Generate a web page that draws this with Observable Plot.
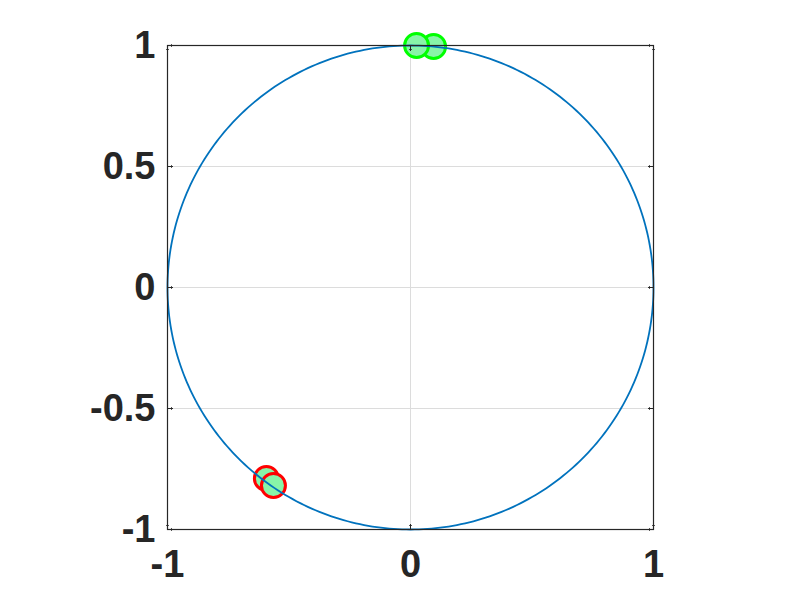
<!DOCTYPE html>
<html>
<head>
<meta charset="utf-8">
<script src="https://cdn.jsdelivr.net/npm/d3@7"></script>
<script src="https://cdn.jsdelivr.net/npm/@observablehq/plot@0.6"></script>
<style>
  html, body { margin: 0; padding: 0; background: #fff; }
  #chart svg { display: block; }
</style>
</head>
<body>
<div id="chart"></div>
<script>
// Tick values
const xTicks = [-1, 0, 1];
const yTicks = [-1, -0.5, 0, 0.5, 1];
const xGrid = [0];
const yGrid = [-0.5, 0, 0.5];

// Unit circle (radius 1), sampled by angle
const circleRadius = 1;
const circleSteps = 360;

// Marker positions
const greenX = [0.095, 0.025];
const greenY = [0.996, 1.0];
const redX = [-0.593, -0.564];
const redY = [-0.789, -0.818];

const circlePts = d3.range(circleSteps + 1).map(i => {
  const t = (2 * Math.PI * i) / circleSteps;
  return {x: circleRadius * Math.cos(t), y: circleRadius * Math.sin(t)};
});
const greenPts = greenX.map((x, i) => ({x, y: greenY[i]}));
const redPts = redX.map((x, i) => ({x, y: redY[i]}));

const fontStyle = {fontSize: 38, fontWeight: "bold", fill: "#262626"};
const tickStyle = {length: 5, anchor: "start", stroke: "#262626", strokeWidth: 1};

const chart = Plot.plot({
  width: 792,
  height: 595,
  marginLeft: 167,
  marginRight: 139,
  marginTop: 45,
  marginBottom: 66,
  style: {fontFamily: "'Liberation Sans', Arial, sans-serif", background: "#fff", overflow: "visible"},
  x: {domain: [-1, 1]},
  y: {domain: [-1, 1]},
  marks: [
    Plot.gridX(xGrid, {stroke: "#dcdcdc", strokeOpacity: 1}),
    Plot.gridY(yGrid, {stroke: "#dcdcdc", strokeOpacity: 1}),
    Plot.dot(redPts, {x: "x", y: "y", r: 12, fill: "#88f5a8", stroke: "#ff0000", strokeWidth: 3}),
    Plot.dot(greenPts, {x: "x", y: "y", r: 12, fill: "#88f5a8", stroke: "#00ff00", strokeWidth: 3}),
    Plot.line(circlePts, {x: "x", y: "y", stroke: "#0072BD", strokeWidth: 1.8, curve: "linear"}),
    Plot.frame({stroke: "#262626", strokeWidth: 1.2}),
    Plot.vector(xTicks, {x: d => d, frameAnchor: "bottom", rotate: 0, ...tickStyle}),
    Plot.vector(xTicks, {x: d => d, frameAnchor: "top", rotate: 180, ...tickStyle}),
    Plot.vector(yTicks, {y: d => d, frameAnchor: "left", rotate: 90, ...tickStyle}),
    Plot.vector(yTicks, {y: d => d, frameAnchor: "right", rotate: 270, ...tickStyle}),
    Plot.axisX(xTicks, {anchor: "bottom", tickSize: 0, tickPadding: 21, label: null, ...fontStyle, tickFormat: d => String(d)}),
    Plot.axisY(yTicks, {anchor: "left", tickSize: 0, tickPadding: 12, label: null, ...fontStyle, tickFormat: d => String(d)})
  ]
});
document.getElementById("chart").appendChild(chart);
</script>
</body>
</html>
